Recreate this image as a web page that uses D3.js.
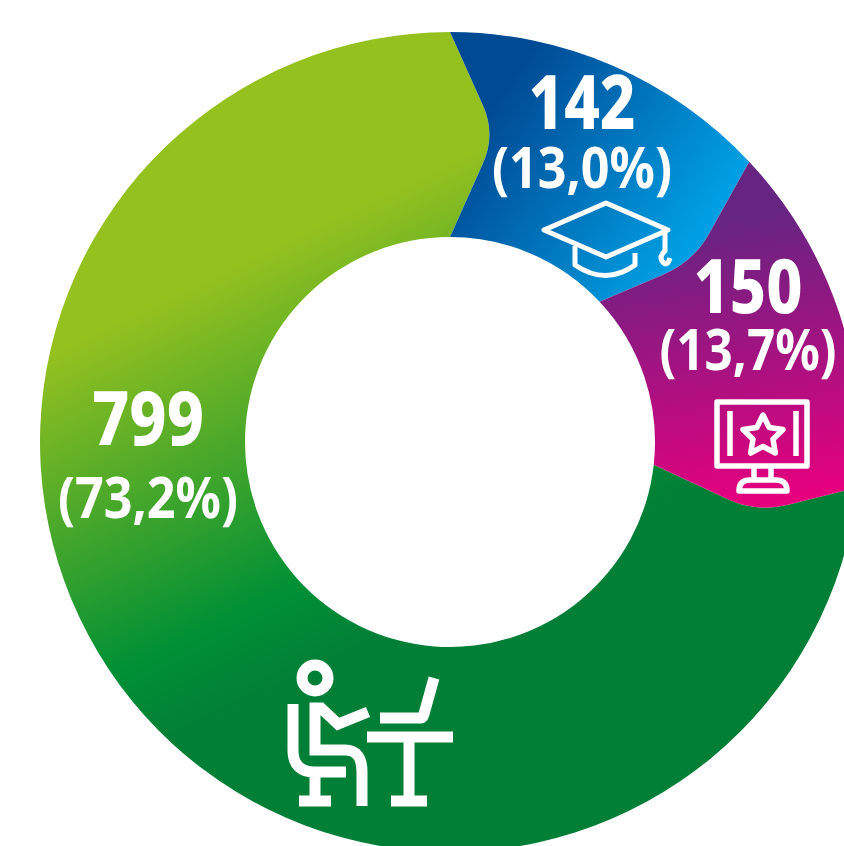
<!DOCTYPE html>
<html><head><meta charset="utf-8">
<script src="https://cdn.jsdelivr.net/npm/d3@7"></script>
<style>html,body{margin:0;padding:0;background:#fff;overflow:hidden}svg{display:block}
text{font-family:"Noto Sans",sans-serif;fill:#fff;text-anchor:middle}</style></head><body>
<script>
const categories = ["Employed", "Studying", "Other"];
const values = [799, 142, 150];
const percents = ["73,2%", "13,0%", "13,7%"];

const W = 844, H = 846, cx = 450, cy = 442, R = 410, r = 205;
const svg = d3.select("body").append("svg").attr("width", W).attr("height", H);
const defs = svg.append("defs");
const grads = [
  {id:"g0", p:[80,340,253,700], stops:[[0,"#95c11f"],[.79,"#009035"],[1,"#027f37"]]},
  {id:"g1", p:[490,110,690,245], stops:[[0,"#004a94"],[1,"#009fe3"]]},
  {id:"g2", p:[700,225,745,505], stops:[[0,"#662483"],[1,"#e6007e"]]}
];
grads.forEach(g=>{
  const lg = defs.append("linearGradient").attr("id",g.id).attr("gradientUnits","userSpaceOnUse")
    .attr("x1",g.p[0]).attr("y1",g.p[1]).attr("x2",g.p[2]).attr("y2",g.p[3]);
  g.stops.forEach(s=>lg.append("stop").attr("offset",s[0]).attr("stop-color",s[1]));
});

// the pie starts with the second value at 12 o'clock; the first wraps round to it
const order = [1,2,0];
const pie = d3.pie().sort(null).value(i=>values[i]);
const arcs = pie(order);
const byIdx = {}; arcs.forEach(a=>byIdx[a.data]=a);
const bends = {0:{da:8.5*Math.PI/180,rc:311},1:{da:6.6*Math.PI/180,rc:303},2:{da:6.6*Math.PI/180,rc:315}};
const pt=(a,rad)=>[cx+rad*Math.sin(a),cy-rad*Math.cos(a)];
const lerp=(p,q,t)=>[p[0]+(q[0]-p[0])*t,p[1]+(q[1]-p[1])*t];
function boundary(ctx,a,b,fromInner){
  const inner=pt(a,r), outer=pt(a,R), c=pt(a+b.da,b.rc);
  const s=fromInner?inner:outer, e=fromInner?outer:inner;
  const d1=Math.hypot(c[0]-s[0],c[1]-s[1]), d2=Math.hypot(c[0]-e[0],c[1]-e[1]);
  const rad=32;
  ctx.lineTo(...lerp(c,s,rad/d1));
  ctx.quadraticCurveTo(c[0],c[1],...lerp(c,e,rad/d2));
  ctx.lineTo(...e);
}
const A=a=>a-Math.PI/2;
function slice(i){
  const a=byIdx[i], p=d3.path();
  const s=a.startAngle,e=a.endAngle;
  const prev=order[(order.indexOf(i)+order.length-1)%order.length];
  p.moveTo(...pt(e,R));
  boundary(p,e,bends[i],false);
  p.arc(cx,cy,r,A(e),A(s),true);
  boundary(p,s,bends[prev],true);
  p.arc(cx,cy,R,A(s),A(e),false);
  p.closePath();
  return p.toString();
}
svg.selectAll("path.slice").data([0,1,2]).join("path").attr("class","slice")
  .attr("d",slice).attr("fill",i=>`url(#g${i})`);

const labels=[{i:0,x:148,y1:445,y2:518,w1:112,w2:180},{i:1,x:582,y1:129,y2:188,w1:107,w2:180},{i:2,x:748,y1:313,y2:370,w1:109,w2:177}];
labels.forEach(l=>{
  svg.append("text").attr("x",l.x).attr("y",l.y1).attr("font-size",75).attr("font-weight",800)
    .attr("textLength",l.w1).attr("lengthAdjust","spacingAndGlyphs").text(values[l.i]);
  svg.append("text").attr("x",l.x).attr("y",l.y2).attr("font-size",57).attr("font-weight",700)
    .attr("textLength",l.w2).attr("lengthAdjust","spacingAndGlyphs").text(`(${percents[l.i]})`);
});

const ic=svg.append("g").attr("fill","none").attr("stroke","#fff");
// graduation cap
const cap=ic.append("g").attr("stroke-width",5).attr("stroke-linejoin","round");
cap.append("path").attr("d","M606 203L544 230L606 257L668 230Z");
cap.append("path").attr("d","M575 246V265Q606 286 635 265V253");
cap.append("path").attr("d","M665 230V251Q659 256 662 261Q667 268 670 258");
// monitor with star
const mon=ic.append("g").attr("stroke-width",5.5).attr("stroke-linejoin","round");
mon.append("rect").attr("x",717).attr("y",402).attr("width",90).attr("height",64);
mon.append("path").attr("d","M730 411V456M796 411V456M754 466V480M771 466V480");
mon.append("path").attr("d","M739 491Q739 480 750 480H776Q787 480 787 491Z");
mon.append("path").attr("d",d3.range(10).map(k=>{
  const rr=k%2?10.5:21, t=k*Math.PI/5;
  return (k?"L":"M")+(763+rr*Math.sin(t)).toFixed(1)+" "+(436-rr*Math.cos(t)).toFixed(1);
}).join("")+"Z");
// person at desk
const pe=ic.append("g").attr("stroke-width",11);
pe.append("circle").attr("cx",315).attr("cy",678).attr("r",13);
pe.append("path").attr("d","M293 704V750Q293 772 315 772H346M315 772V801M299 801H331");
pe.append("path").attr("d","M368 712L338 724L321 708H315V750H345Q362 750 362 772V806");
pe.append("path").attr("d","M380 718H421Q423 718 424 714L434 678");
pe.append("path").attr("d","M367 737H453M409 737V801M391 801H427");
</script></body></html>
